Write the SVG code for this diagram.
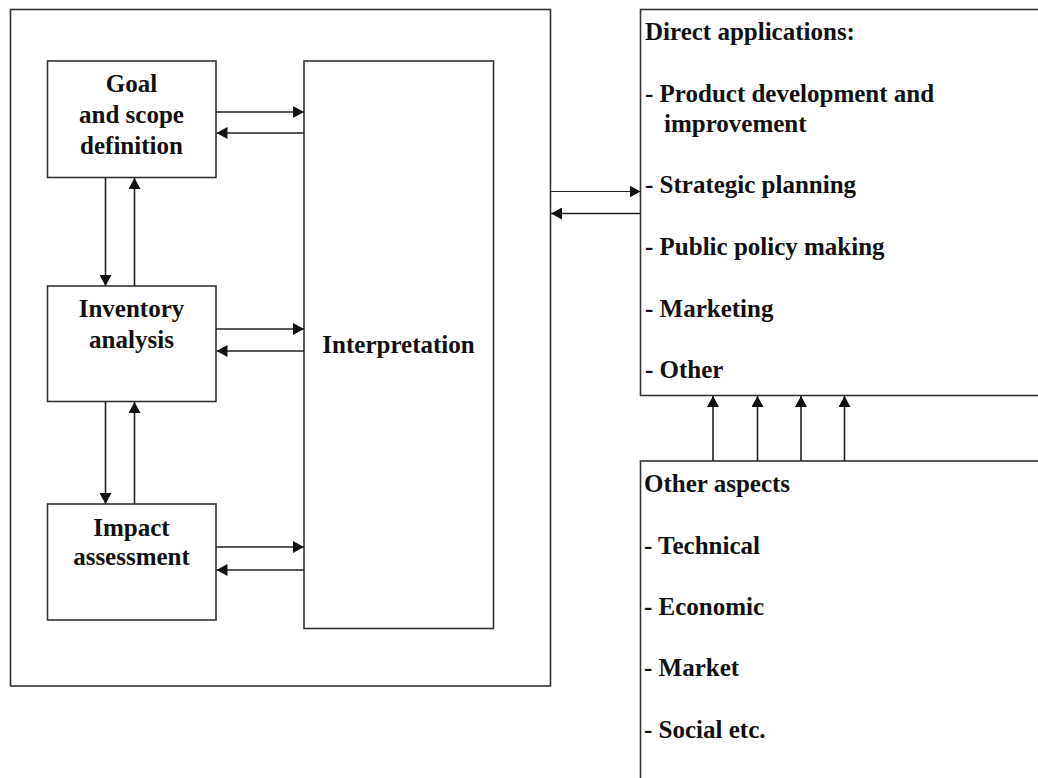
<svg xmlns="http://www.w3.org/2000/svg" width="1038" height="778" viewBox="0 0 1038 778">
  <defs>
    <marker id="ah" markerUnits="userSpaceOnUse" markerWidth="11" markerHeight="12" refX="11" refY="6" orient="auto">
      <path d="M0,0 L11,6 L0,12 z" fill="#111"/>
    </marker>
    <style>
      .box { fill: #fff; stroke: #333; stroke-width: 1.6; }
      .conn { fill: none; stroke: #222; stroke-width: 1.6; marker-end: url(#ah); }
      .thin { stroke-width: 1; }
      text { font-family: "Liberation Serif", "Times New Roman", serif; font-weight: bold; font-size: 25px; fill: #111; }
      .c { text-anchor: middle; }
    </style>
  </defs>
  <rect width="1038" height="778" fill="#fff"/>

  <g id="outer-frame">
    <rect class="box" x="10.5" y="9.5" width="540" height="676.5"/>
  </g>

  <g id="goal">
    <rect class="box" x="47.5" y="61" width="168.5" height="116.5"/>
    <text class="c" x="131.5" y="91.5">Goal</text>
    <text class="c" x="131.5" y="122.5">and scope</text>
    <text class="c" x="131.5" y="153.5">definition</text>
  </g>

  <g id="inventory">
    <rect class="box" x="47.5" y="286" width="168.5" height="115.5"/>
    <text class="c" x="131.5" y="316.5">Inventory</text>
    <text class="c" x="131.5" y="348">analysis</text>
  </g>

  <g id="impact">
    <rect class="box" x="47.5" y="504" width="168.5" height="116"/>
    <text class="c" x="131.5" y="535.5">Impact</text>
    <text class="c" x="131.5" y="565">assessment</text>
  </g>

  <g id="interpretation">
    <rect class="box" x="304" y="61" width="189.5" height="567.5"/>
    <text class="c" x="398.5" y="353">Interpretation</text>
  </g>

  <g id="direct-applications">
    <rect class="box" x="640.5" y="9.5" width="410" height="386"/>
    <text x="645" y="40">Direct applications:</text>
    <text x="645" y="101.5">- Product development and</text>
    <text x="664" y="131.5">improvement</text>
    <text x="645" y="193">- Strategic planning</text>
    <text x="645" y="255">- Public policy making</text>
    <text x="645" y="316.5">- Marketing</text>
    <text x="645" y="378">- Other</text>
  </g>

  <g id="other-aspects">
    <rect class="box" x="640.5" y="461" width="410" height="330"/>
    <text x="644" y="491.5">Other aspects</text>
    <text x="644" y="554">- Technical</text>
    <text x="644" y="615">- Economic</text>
    <text x="644" y="676">- Market</text>
    <text x="644" y="737.5">- Social etc.</text>
  </g>

  <g id="connectors">
    <!-- goal <-> interpretation -->
    <line class="conn" x1="216" y1="112" x2="304" y2="112"/>
    <line class="conn" x1="304" y1="133" x2="216.5" y2="133"/>
    <!-- inventory <-> interpretation -->
    <line class="conn" x1="216" y1="329" x2="304" y2="329"/>
    <line class="conn" x1="304" y1="351" x2="216.5" y2="351"/>
    <!-- impact <-> interpretation -->
    <line class="conn" x1="216" y1="547" x2="304" y2="547"/>
    <line class="conn" x1="304" y1="570" x2="216.5" y2="570"/>
    <!-- goal <-> inventory -->
    <line class="conn" x1="105.5" y1="177.5" x2="105.5" y2="286"/>
    <line class="conn" x1="134.5" y1="286" x2="134.5" y2="178"/>
    <!-- inventory <-> impact -->
    <line class="conn" x1="105.5" y1="401.5" x2="105.5" y2="504"/>
    <line class="conn" x1="134.5" y1="504" x2="134.5" y2="402"/>
    <!-- frame <-> direct applications -->
    <line class="conn thin" x1="551" y1="191.5" x2="640.5" y2="191.5"/>
    <line class="conn" x1="640.5" y1="213.5" x2="551" y2="213.5"/>
    <!-- other aspects -> direct applications -->
    <line class="conn" x1="713" y1="461" x2="713" y2="396"/>
    <line class="conn" x1="757.5" y1="461" x2="757.5" y2="396"/>
    <line class="conn" x1="801" y1="461" x2="801" y2="396"/>
    <line class="conn" x1="844.5" y1="461" x2="844.5" y2="396"/>
  </g>
</svg>
